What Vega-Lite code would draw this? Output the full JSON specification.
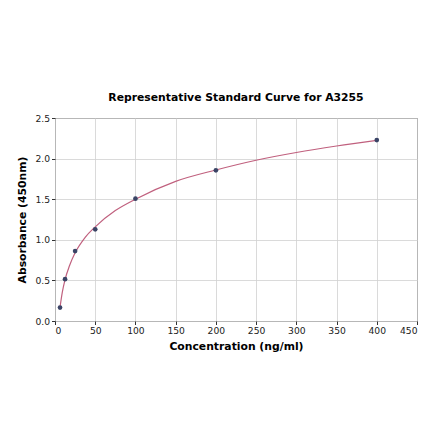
{
  "$schema": "https://vega.github.io/schema/vega-lite/v6.json",
  "autosize": {"type": "none"},
  "padding": {"left": 55, "top": 118, "right": 23, "bottom": 120},
  "width": 362,
  "height": 203,
  "background": "white",
  "title": {"text": "Representative Standard Curve for A3255", "font": "DejaVu Sans", "fontSize": 10.8, "fontWeight": "bold", "color": "black", "offset": 11, "anchor": "middle"},
  "config": {
    "view": {"stroke": "#555555", "strokeWidth": 1},
    "axis": {"labelFont": "DejaVu Sans", "titleFont": "DejaVu Sans", "labelFontSize": 9.2, "titleFontSize": 10.8, "titleFontWeight": "bold", "labelColor": "#222", "titleColor": "black", "gridColor": "#d0d0d0", "gridWidth": 0.8, "tickColor": "#333", "tickSize": 3.5, "domain": false}
  },
  "datasets": {
    "points": [
      {"conc": 6.25, "od": 0.165},
      {"conc": 12.5, "od": 0.515},
      {"conc": 25, "od": 0.861},
      {"conc": 50, "od": 1.129},
      {"conc": 100, "od": 1.507},
      {"conc": 200, "od": 1.856},
      {"conc": 400, "od": 2.228}
    ],
    "curve": [
      {"conc": 6.25, "od": 0.17},
      {"conc": 9, "od": 0.35},
      {"conc": 12.5, "od": 0.51},
      {"conc": 18, "od": 0.68},
      {"conc": 25, "od": 0.84},
      {"conc": 37.5, "od": 1.03},
      {"conc": 50, "od": 1.16},
      {"conc": 75, "od": 1.36},
      {"conc": 100, "od": 1.5},
      {"conc": 150, "od": 1.72},
      {"conc": 200, "od": 1.86},
      {"conc": 250, "od": 1.98},
      {"conc": 300, "od": 2.075},
      {"conc": 350, "od": 2.155},
      {"conc": 400, "od": 2.225}
    ]
  },
  "layer": [
    {
      "data": {"name": "curve"},
      "mark": {"type": "line", "color": "#c0607e", "strokeWidth": 1.2, "interpolate": "monotone"},
      "encoding": {
        "x": {"field": "conc", "type": "quantitative", "scale": {"domain": [0, 450], "nice": false}, "axis": {"values": [0, 50, 100, 150, 200, 250, 300, 350, 400, 450], "title": "Concentration (ng/ml)", "titlePadding": 5, "labelPadding": 2}},
        "y": {"field": "od", "type": "quantitative", "scale": {"domain": [0, 2.5], "nice": false}, "axis": {"values": [0, 0.5, 1, 1.5, 2, 2.5], "format": ".1f", "title": "Absorbance (450nm)", "titlePadding": 7, "labelPadding": 2}}
      }
    },
    {
      "data": {"name": "points"},
      "mark": {"type": "circle", "color": "#3a4466", "opacity": 1, "size": 22},
      "encoding": {
        "x": {"field": "conc", "type": "quantitative"},
        "y": {"field": "od", "type": "quantitative"}
      }
    }
  ]
}
